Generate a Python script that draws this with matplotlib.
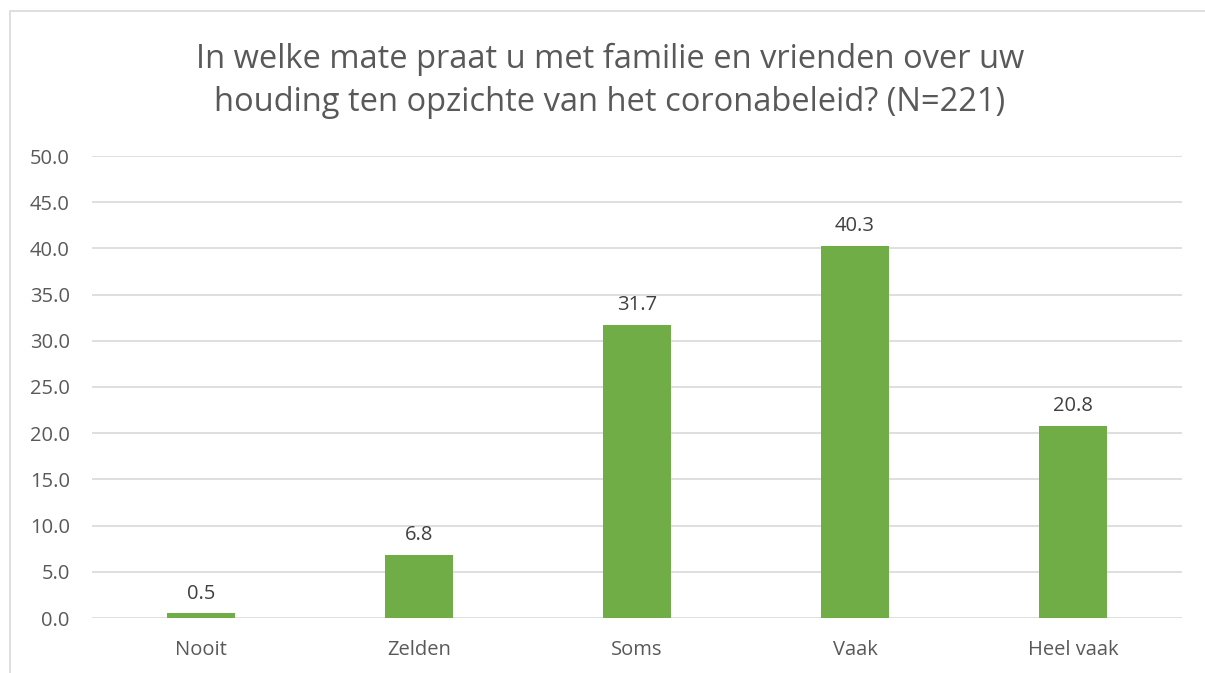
import matplotlib
matplotlib.use("Agg")
import matplotlib.pyplot as plt
from matplotlib.patches import Rectangle

categories = ["Nooit", "Zelden", "Soms", "Vaak", "Heel vaak"]
values = [0.5, 6.8, 31.7, 40.3, 20.8]
yticks = [0, 5, 10, 15, 20, 25, 30, 35, 40, 45, 50]
title = "In welke mate praat u met familie en vrienden over uw\nhouding ten opzichte van het coronabeleid? (N=221)"

plt.rcParams['font.family'] = ['Open Sans', 'DejaVu Sans']
TXT = "#595959"

fig = plt.figure(figsize=(12.05, 6.73), dpi=100)
W, H = 1205, 673
ax = fig.add_axes([92 / W, 1 - 618 / H, (1182 - 92) / W, (618 - 156) / H])

x = list(range(len(categories)))
bars = ax.bar(x, values, width=0.31, color="#70AD47", zorder=3)
for xi, v in zip(x, values):
    ax.annotate(f"{v:.1f}", (xi, v), xytext=(0, 7), textcoords="offset points",
                ha="center", va="bottom", fontsize=14.5, color="#404040")

ax.set_xlim(-0.5, 4.5)
ax.set_ylim(0, 50)
ax.set_yticks(yticks)
ax.set_yticklabels([f"{t:.1f}" for t in yticks])
ax.set_xticks(x)
ax.set_xticklabels(categories)
ax.tick_params(axis="both", length=0, labelsize=14.5, labelcolor=TXT)
ax.tick_params(axis="y", pad=16)
ax.tick_params(axis="x", pad=16)
ax.grid(axis="y", color="#D9D9D9", linewidth=1.2, zorder=0)
for s in ax.spines.values():
    s.set_visible(False)

fig.text(610 / W, 1 - 81 / H, title, ha="center", va="center", fontsize=23.5,
         color=TXT, linespacing=1.42)

fig.patches.append(Rectangle((10 / W, -0.1), 1.2, 1 - 11 / H + 0.1, transform=fig.transFigure,
                             fill=False, edgecolor="#D9D9D9", linewidth=1.2))

fig.savefig("out.png", dpi=100)
